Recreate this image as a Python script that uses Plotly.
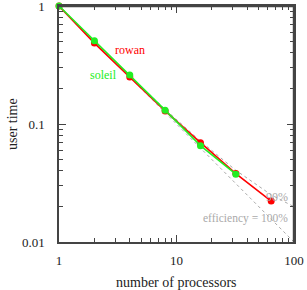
import plotly.graph_objects as go

# data
procs_rowan = [1, 2, 4, 8, 16, 32, 64]
time_rowan = [1.0, 0.485, 0.25, 0.129, 0.0695, 0.038, 0.0222]
procs_soleil = [1, 2, 4, 8, 16, 32]
time_soleil = [1.0, 0.508, 0.26, 0.131, 0.0655, 0.0375]

# reference efficiency guides
procs_ref = [1, 2, 4, 8, 16, 32, 64, 100]
time_eff100 = [1.0, 0.5, 0.25, 0.125, 0.0625, 0.03125, 0.015625, 0.01]
time_eff90 = [1.0, 0.505, 0.2575, 0.1334, 0.0715, 0.0405, 0.0251, 0.0199]

x_ticks = [1, 10, 100]
x_ticktext = ["1", "10", "100"]
y_ticks = [0.01, 0.1, 1]
y_ticktext = ["0.01", "0.1", "1"]

FONT = "Liberation Serif, DejaVu Serif, serif"
GRAY = "#aaaaaa"
TXT = "#222222"
FRAME = "#444444"

fig = go.Figure()
fig.add_trace(go.Scatter(x=procs_ref, y=time_eff100, mode="lines",
                         line=dict(color=GRAY, width=1, dash="dot"), showlegend=False))
fig.add_trace(go.Scatter(x=procs_ref, y=time_eff90, mode="lines",
                         line=dict(color=GRAY, width=1, dash="dot"), showlegend=False))
fig.add_trace(go.Scatter(x=procs_rowan, y=time_rowan, mode="lines+markers",
                         line=dict(color="#ff0000", width=1.6),
                         marker=dict(color="#ff0000", size=7), showlegend=False,
                         cliponaxis=False))
fig.add_trace(go.Scatter(x=procs_soleil, y=time_soleil, mode="lines+markers",
                         line=dict(color="#22ee22", width=1.6),
                         marker=dict(color="#22ee22", size=7), showlegend=False,
                         cliponaxis=False))

minor_x = [2, 3, 4, 5, 6, 7, 8, 9, 20, 30, 40, 50, 60, 70, 80, 90]
minor_y = [0.02, 0.03, 0.04, 0.05, 0.06, 0.07, 0.08, 0.09,
           0.2, 0.3, 0.4, 0.5, 0.6, 0.7, 0.8, 0.9]

axis_common = dict(type="log", showgrid=False, zeroline=False, showline=True,
                   linecolor=FRAME, linewidth=1.5, mirror="allticks",
                   ticks="inside", ticklen=7, tickcolor=FRAME, tickwidth=1,
                   automargin=False, ticklabeloverflow="allow",
                   tickfont=dict(family=FONT, size=13, color=TXT))

fig.update_xaxes(range=[-0.0005, 2.0005], tickvals=x_ticks, ticktext=x_ticktext,
                 minor=dict(tickvals=minor_x, ticks="inside", ticklen=4,
                            tickcolor=FRAME, showgrid=False),
                 ticklabelstandoff=6, **axis_common)
fig.update_yaxes(range=[-2.0005, 0.0005], tickvals=y_ticks, ticktext=y_ticktext,
                 minor=dict(tickvals=minor_y, ticks="inside", ticklen=4,
                            tickcolor=FRAME, showgrid=False),
                 ticklabelstandoff=10, **axis_common)

# frame around the plot area (top and right edges drawn explicitly)
fig.add_shape(type="line", xref="x domain", yref="y domain", x0=0, x1=1, y0=0.998, y1=0.998,
              line=dict(color=FRAME, width=1.5), layer="above")
fig.add_shape(type="line", xref="x domain", yref="y domain", x0=0.998, x1=0.998, y0=0, y1=1,
              line=dict(color=FRAME, width=1.5), layer="above")

fig.add_annotation(x=0.5, y=0, xref="paper", yref="paper", text="number of processors",
                   showarrow=False, yshift=-40, xanchor="center", yanchor="middle",
                   font=dict(family=FONT, size=14, color=TXT))
fig.add_annotation(x=0, y=0.5, xref="paper", yref="paper", text="user time",
                   showarrow=False, xshift=-47, textangle=-90, xanchor="center", yanchor="middle",
                   font=dict(family=FONT, size=14, color=TXT))

fig.add_annotation(x=0.60, y=-0.373, xref="x", yref="y", text="rowan", showarrow=False,
                   font=dict(color="#ff0000", family=FONT, size=12), xanchor="center", yanchor="middle")
fig.add_annotation(x=0.376, y=-0.585, xref="x", yref="y", text="soleil", showarrow=False,
                   font=dict(color="#22ee22", family=FONT, size=12), xanchor="center", yanchor="middle")
fig.add_annotation(x=1.97, y=-1.62, xref="x", yref="y", text="90%", showarrow=False,
                   font=dict(color=GRAY, family=FONT, size=12), xanchor="right", yanchor="middle")
fig.add_annotation(x=1.97, y=-1.805, xref="x", yref="y", text="efficiency = 100%", showarrow=False,
                   font=dict(color=GRAY, family=FONT, size=11.5), xanchor="right", yanchor="middle")

fig.update_layout(width=307, height=290, margin=dict(l=59, r=13, t=6, b=48),
                  paper_bgcolor="white", plot_bgcolor="white",
                  font=dict(family=FONT))
fig.write_html("out.html", config={"displayModeBar": False},
               post_script="document.body.style.margin='0';document.body.style.padding='0';")
